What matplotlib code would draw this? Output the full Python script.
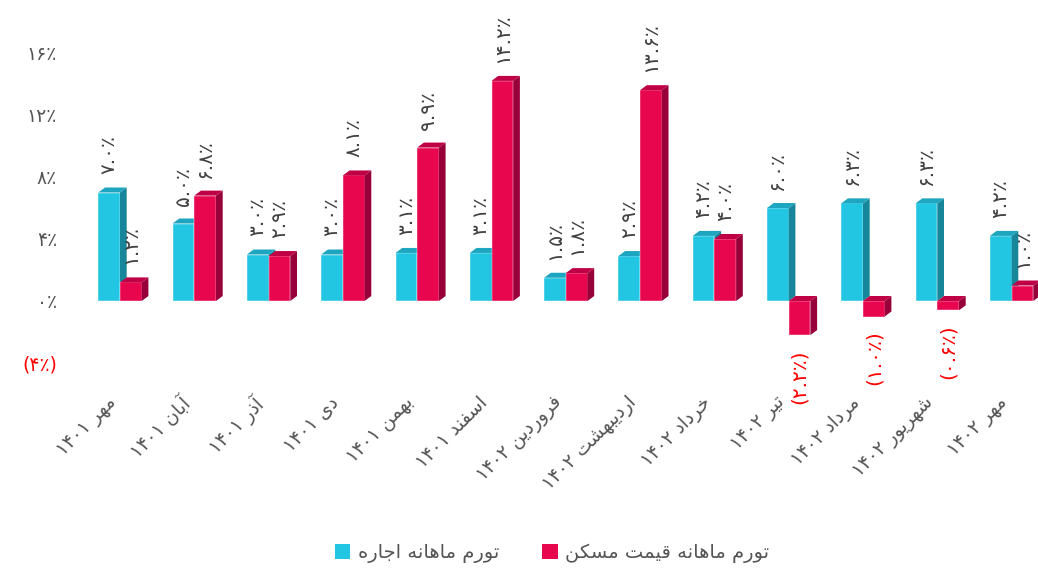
import matplotlib
matplotlib.use("Agg")
import matplotlib.pyplot as plt
from matplotlib.patches import Polygon, Patch

# ---------------- data ----------------
months = ["مهر ۱۴۰۱", "آبان ۱۴۰۱", "آذر ۱۴۰۱", "دی ۱۴۰۱", "بهمن ۱۴۰۱", "اسفند ۱۴۰۱",
          "فروردین ۱۴۰۲", "اردیبهشت ۱۴۰۲", "خرداد ۱۴۰۲", "تیر ۱۴۰۲", "مرداد ۱۴۰۲",
          "شهریور ۱۴۰۲", "مهر ۱۴۰۲"]
rent = [7.0, 5.0, 3.0, 3.0, 3.1, 3.1, 1.5, 2.9, 4.2, 6.0, 6.3, 6.3, 4.2]
housing = [1.2, 6.8, 2.9, 8.1, 9.9, 14.2, 1.8, 13.6, 4.0, -2.2, -1.0, -0.6, 1.0]
series_names = ["تورم ماهانه اجاره", "تورم ماهانه قیمت مسکن"]
yticks = [-4, 0, 4, 8, 12, 16]

# ---------------- Persian text helpers ----------------
FORMS = {  # isolated, final, initial, medial
    'ا': ('\uFE8D', '\uFE8E', None, None),
    'آ': ('\uFE81', '\uFE82', None, None),
    'ب': ('\uFE8F', '\uFE90', '\uFE91', '\uFE92'),
    'ت': ('\uFE95', '\uFE96', '\uFE97', '\uFE98'),
    'ج': ('\uFE9D', '\uFE9E', '\uFE9F', '\uFEA0'),
    'خ': ('\uFEA5', '\uFEA6', '\uFEA7', '\uFEA8'),
    'د': ('\uFEA9', '\uFEAA', None, None),
    'ذ': ('\uFEAB', '\uFEAC', None, None),
    'ر': ('\uFEAD', '\uFEAE', None, None),
    'ز': ('\uFEAF', '\uFEB0', None, None),
    'س': ('\uFEB1', '\uFEB2', '\uFEB3', '\uFEB4'),
    'ش': ('\uFEB5', '\uFEB6', '\uFEB7', '\uFEB8'),
    'ف': ('\uFED1', '\uFED2', '\uFED3', '\uFED4'),
    'ق': ('\uFED5', '\uFED6', '\uFED7', '\uFED8'),
    'ک': ('\uFB8E', '\uFB8F', '\uFB90', '\uFB91'),
    'م': ('\uFEE1', '\uFEE2', '\uFEE3', '\uFEE4'),
    'ن': ('\uFEE5', '\uFEE6', '\uFEE7', '\uFEE8'),
    'ه': ('\uFEE9', '\uFEEA', '\uFEEB', '\uFEEC'),
    'و': ('\uFEED', '\uFEEE', None, None),
    'ی': ('\uFBFC', '\uFBFD', '\uFBFE', '\uFBFF'),
}


def shape_word(w):
    out = []
    for i, c in enumerate(w):
        if c not in FORMS:
            out.append(c)
            continue
        prev = w[i - 1] if i > 0 else None
        nxt = w[i + 1] if i + 1 < len(w) else None
        jp = prev in FORMS and FORMS[prev][2] is not None
        jn = FORMS[c][2] is not None and nxt in FORMS
        iso, fin, ini, med = FORMS[c]
        if jp and jn:
            out.append(med)
        elif jp:
            out.append(fin)
        elif jn:
            out.append(ini)
        else:
            out.append(iso)
    return ''.join(out)


def fa(text):
    toks = text.split(' ')
    vis = []
    for t in reversed(toks):
        if any(c in FORMS for c in t):
            vis.append(shape_word(t)[::-1])
        else:
            vis.append(t)
    return ' '.join(vis)


PD = str.maketrans("0123456789", "۰۱۲۳۴۵۶۷۸۹")


def pnum(s):
    return s.translate(PD)


def pct_label(v):
    s = pnum(f"{abs(v):.1f}") + "٪"
    return f"({s})" if v < 0 else s


def tick_label(v):
    s = pnum(f"{abs(v):d}") + "٪"
    return f"({s})" if v < 0 else s


# ---------------- figure ----------------
plt.rcParams['font.family'] = ['DejaVu Sans']
W, H = 1038, 576
fig = plt.figure(figsize=(W / 100, H / 100), dpi=100)
ax_left_px, ax_right_px = 80, 1038
ax_top_px, ax_bot_px = 53, 363
ax = fig.add_axes([ax_left_px / W, (H - ax_bot_px) / H,
                   (ax_right_px - ax_left_px) / W, (ax_bot_px - ax_top_px) / H])

px_per_x = 74.3
x0c = 120
ax.set_xlim((ax_left_px - x0c) / px_per_x, (ax_right_px - x0c) / px_per_x)
ax.set_ylim(-4, 16)
px_per_y = (ax_bot_px - ax_top_px) / 20.0

bw = 21.7 / px_per_x
dx = 6.7 / px_per_x
dy = 5.0 / px_per_y

colors = {
    0: ('#22c6e3', '#17869b', '#1ea5bf'),
    1: ('#e8064f', '#98003a', '#c00045'),
}


def bar3d(x, v, cols, z):
    front, side, top = cols
    lo, hi = min(0, v), max(0, v)
    ax.bar(x, v, width=bw, align='edge', color=front, edgecolor='#ffffff',
           linewidth=0.3, zorder=z)
    ax.add_patch(Polygon([(x + bw, lo), (x + bw + dx, lo + dy), (x + bw + dx, hi + dy),
                          (x + bw, hi)], closed=True, facecolor=side, edgecolor='none',
                         zorder=z))
    ax.add_patch(Polygon([(x, hi), (x + dx, hi + dy), (x + bw + dx, hi + dy), (x + bw, hi)],
                         closed=True, facecolor=top, edgecolor='none', zorder=z))


for i in range(len(months)):
    bar3d(i - bw, rent[i], colors[0], 3 + 2 * i)
    bar3d(i, housing[i], colors[1], 4 + 2 * i)

for i in range(len(months)):
    for j, v in enumerate((rent[i], housing[i])):
        xc = i - bw / 2 if j == 0 else i + bw / 2
        if v >= 0:
            ax.annotate(pct_label(v), (xc, v), xytext=(0, 18), textcoords='offset pixels',
                        rotation=90, ha='center', va='bottom', fontsize=14.5,
                        color='#404040', zorder=50, annotation_clip=False)
        else:
            ax.annotate(pct_label(v), (xc, v), xytext=(0, -14), textcoords='offset pixels',
                        rotation=90, ha='center', va='top', fontsize=14.5,
                        color='#ff0000', zorder=50, annotation_clip=False)

# x labels
for i, m in enumerate(months):
    ax.annotate(fa(m), (i, 0), xytext=(0, -(393 - 301)), textcoords='offset pixels',
                rotation=45, ha='right', va='top', fontsize=13.5, color='#555555',
                annotation_clip=False)

ax.set_xticks([])
ax.set_yticks(yticks)
ax.set_yticklabels([tick_label(v) for v in yticks], fontsize=13.5)
for lab, v in zip(ax.get_yticklabels(), yticks):
    lab.set_color('#ff0000' if v < 0 else '#555555')
ax.tick_params(axis='y', length=0, pad=16.5)
for s in ax.spines.values():
    s.set_visible(False)

handles = [Patch(facecolor=colors[0][0]), Patch(facecolor=colors[1][0])]
fig.legend(handles, [fa(n) for n in series_names], loc='center',
           bbox_to_anchor=(552 / W, 1 - 553 / H), ncol=2, frameon=False, fontsize=14,
           handlelength=0.8, handleheight=0.8, handletextpad=0.4, columnspacing=2.2,
           labelcolor='#555555')

fig.savefig("out.png", dpi=100)
